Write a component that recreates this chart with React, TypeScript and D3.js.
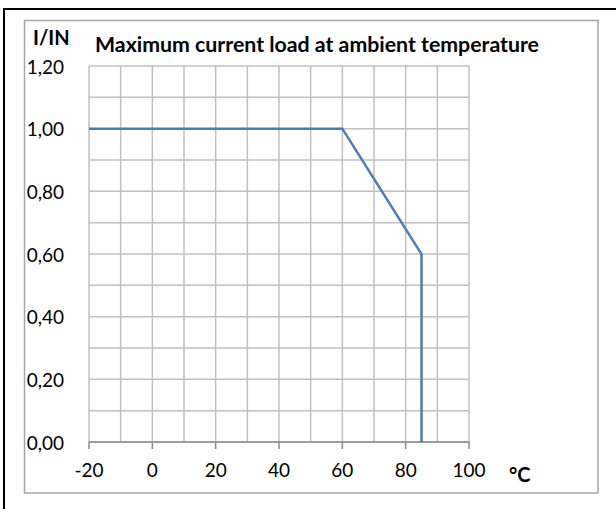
import React from 'react';
import * as d3 from 'd3';

// derating curve: current ratio vs ambient temperature
const temps = [-20, 60, 85, 85];
const ratios = [1.0, 1.0, 0.6, 0.0];
const xTicks = [-20, 0, 20, 40, 60, 80, 100];
const yTicks = [0, 0.2, 0.4, 0.6, 0.8, 1.0, 1.2];
const xGrid = d3.range(-20, 101, 10);
const yGrid = d3.range(0, 13).map(i => i / 10);

const W = 616;
const H = 509;
const plot = { left: 89, right: 469, top: 66, bottom: 442 };
const font = 'Lato, "Open Sans", sans-serif';

const App: React.FC = () => {
  const x = d3.scaleLinear().domain([-20, 100]).range([plot.left, plot.right]);
  const y = d3.scaleLinear().domain([0, 1.2]).range([plot.bottom, plot.top]);

  const line = d3.line<number>()
    .x((_, i) => x(temps[i]))
    .y(d => y(d));

  const fmt = (v: number) => v.toFixed(2).replace('.', ',');

  return (
    <svg width={W} height={H} style={{ position: 'absolute', left: 0, top: 0 }}>
      <rect width={W} height={H} fill="#fff" />
      {/* outer frame, top and left only */}
      <line x1={3} x2={W} y1={9} y2={9} stroke="#000" strokeWidth={2} />
      <line x1={4} x2={4} y1={8} y2={H} stroke="#000" strokeWidth={2} />
      <rect x={24.5} y={20.5} width={573.5} height={472.5} fill="#fff" stroke="#a6a6a6" strokeWidth={1.5} />

      {xGrid.map(v => (
        <line key={'gx' + v} x1={x(v)} x2={x(v)} y1={plot.top} y2={plot.bottom} stroke="#c0c0c0" strokeWidth={1.5} />
      ))}
      {yGrid.map(v => (
        <line key={'gy' + v} x1={plot.left} x2={plot.right} y1={y(v)} y2={y(v)} stroke="#c0c0c0" strokeWidth={1.5} />
      ))}

      {/* x axis */}
      <line x1={plot.left} x2={plot.right} y1={plot.bottom} y2={plot.bottom} stroke="#8c8c8c" strokeWidth={1.5} />
      {xTicks.map(v => (
        <g key={'xt' + v}>
          <line x1={x(v)} x2={x(v)} y1={plot.bottom} y2={plot.bottom + 7} stroke="#8c8c8c" strokeWidth={1.5} />
          <text x={x(v)} y={477} textAnchor="middle" fontFamily={font} fontSize={19} fill="#000">{v}</text>
        </g>
      ))}
      {yTicks.map(v => (
        <text key={'yt' + v} x={64} y={y(v) + 7.5} textAnchor="end" fontFamily={font} fontSize={19} fill="#000">{fmt(v)}</text>
      ))}

      <path d={line(ratios) || ''} fill="none" stroke="#4a7ebb" strokeWidth={2.5} />

      <text x={33} y={45} fontFamily={font} fontSize={20} fontWeight="bold" fill="#000">I/IN</text>
      <text x={95} y={52} fontFamily={font} fontSize={21.3} fontWeight="bold" fill="#000">Maximum current load at ambient temperature</text>
      <text x={509} y={482} fontFamily={font} fontSize={20} fontWeight="bold" fill="#000">°C</text>
    </svg>
  );
};

export default App;
